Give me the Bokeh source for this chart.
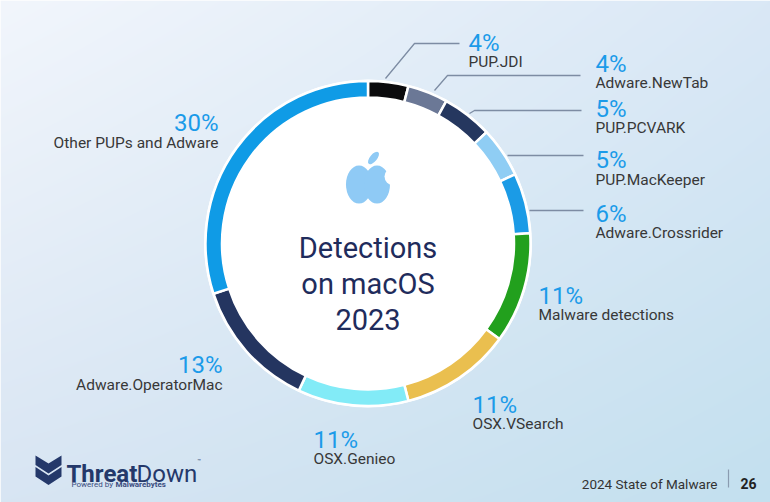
import numpy as np
from bokeh.plotting import figure
from bokeh.models import Range1d
from bokeh.embed import file_html
from bokeh.resources import INLINE
from bokeh.core.properties import value

# ---------------- data ----------------
categories = ["PUP.JDI", "Adware.NewTab", "PUP.PCVARK", "PUP.MacKeeper",
              "Adware.Crossrider", "Malware detections", "OSX.VSearch",
              "OSX.Genieo", "Adware.OperatorMac", "Other PUPs and Adware"]
shares = [4, 4, 5, 5, 6, 11, 11, 11, 13, 30]
slice_colors = ["#0b0b0d", "#6b7896", "#25375f", "#8fcdf4", "#1b9be6",
                "#22a01d", "#eabf4f", "#82ebf7", "#243560", "#0f9be6"]
pct_labels = [f"{v}%" for v in shares]

# ---------------- layout (image pixel coords) ----------------
W, H = 770, 502
OFF = 0
CX, CY = 367.5, 243.0
R_OUT, R_IN = 162.5, 146.0

def px(ix):
    return np.asarray(ix, dtype=float) - CX

def py(iy):
    return CY - np.asarray(iy, dtype=float)

label_x = [468, 595, 595, 595, 595, 538, 472, 313, 222, 218]
label_align = ["left"] * 8 + ["right", "right"]
pct_base = [42, 63, 108, 159, 213, 295, 404, 439, 364, 122]
name_base = [61, 82, 127, 179, 232, 314, 423, 458, 384, 142]
leaders = [
    [(385, 78), (414, 43), (459, 43)],
    [(434, 90), (447, 75), (580, 75)],
    [(469, 113), (474, 110), (581, 110)],
    [(507, 155), (583, 155)],
    [(529, 210), (583, 210)],
]

FONT = "Roboto"

p = figure(width=W, height=H, output_backend="svg", toolbar_location=None,
           x_range=Range1d(float(px(OFF)), float(px(OFF + W))),
           y_range=Range1d(float(py(OFF + H)), float(py(OFF))),
           min_border=0)
p.axis.visible = False
p.grid.visible = False
p.outline_line_color = None

# ---------------- background gradient ----------------
TL = np.array([242, 246, 252]); TR = np.array([218, 232, 246])
BL = np.array([216, 229, 243]); BR = np.array([195, 224, 239])
u = np.linspace(0, 1, W)[None, :, None]
v = np.linspace(0, 1, H)[:, None, None]  # 0 bottom, 1 top
top = TL * (1 - u) + TR * u
bot = BL * (1 - u) + BR * u
rgb = bot * (1 - v) + top * v
img = np.empty((H, W), dtype=np.uint32)
view = img.view(dtype=np.uint8).reshape((H, W, 4))
view[:, :, :3] = rgb.astype(np.uint8)
view[:, :, 3] = 255
p.image_rgba(image=[img], x=float(px(OFF)), y=float(py(OFF + H)), dw=W, dh=H)

# ---------------- donut ----------------
cum = np.concatenate([[0], np.cumsum(shares)]) / sum(shares)
start = np.pi / 2 - 2 * np.pi * cum[:-1]
end = np.pi / 2 - 2 * np.pi * cum[1:]
p.circle(x=0, y=0, radius=R_OUT + 1.5, fill_color="white", line_color=None)
p.annular_wedge(x=0, y=0, inner_radius=R_IN, outer_radius=R_OUT,
                start_angle=start, end_angle=end, direction="clock",
                fill_color=slice_colors, line_color="white", line_width=2.5)

# ---------------- apple logo ----------------
apple_c = "#8fcaf5"
p.ellipse(x=px([358.5, 376.5]), y=py([184, 184]), width=26, height=38,
          fill_color=apple_c, line_color=None)
p.circle(x=float(px(393)), y=float(py(176)), radius=9, fill_color="white", line_color=None)
p.ellipse(x=float(px(373)), y=float(py(157.5)), width=15, height=7, angle=np.deg2rad(50),
          fill_color=apple_c, line_color=None)

# ---------------- center title ----------------
p.text(x=[0, 0, 0], y=py([247, 283, 319]), text=["Detections", "on macOS", "2023"],
       text_align="center", text_baseline="alphabetic",
       text_font=value(FONT), text_font_size="29px", text_color="#1f2c5c")

# ---------------- leaders ----------------
for pts in leaders:
    xs = [q[0] for q in pts]; ys = [q[1] for q in pts]
    p.line(px(xs), py(ys), line_color="#7d8ca3", line_width=1.3)

# ---------------- labels ----------------
for i in range(len(categories)):
    p.text(x=[float(px(label_x[i]))], y=[float(py(pct_base[i]))], text=[pct_labels[i]],
           text_align=label_align[i], text_baseline="alphabetic",
           text_font=value(FONT), text_font_size="24px", text_color="#1b9be9")
    p.text(x=[float(px(label_x[i]))], y=[float(py(name_base[i]))], text=[categories[i]],
           text_align=label_align[i], text_baseline="alphabetic",
           text_font=value(FONT), text_font_size="15.5px", text_color="#383838")

# ---------------- footer: logo ----------------
navy = "#24386a"
chev1 = [(35, 455), (48, 463), (61, 455), (61, 464.5), (48, 473), (35, 464.5)]
chev2 = [(35, 466.5), (48, 475), (61, 466.5), (61, 476), (48, 484.5), (35, 476)]
p.patches(xs=[list(px([q[0] for q in c])) for c in (chev1, chev2)],
          ys=[list(py([q[1] for q in c])) for c in (chev1, chev2)],
          fill_color=navy, line_color=None)
p.text(x=[float(px(66))], y=[float(py(473))], text=["Threat"], text_align="left",
       text_baseline="alphabetic", text_font=value(FONT), text_font_style="bold",
       text_font_size="24px", text_color=navy)
p.text(x=[float(px(136))], y=[float(py(473))], text=["Down"], text_align="left",
       text_baseline="alphabetic", text_font=value(FONT),
       text_font_size="24px", text_color=navy)
p.text(x=[float(px(197))], y=[float(py(460))], text=["™"], text_align="left",
       text_baseline="alphabetic", text_font=value(FONT),
       text_font_size="6px", text_color=navy)
p.text(x=[float(px(71))], y=[float(py(484))], text=["Powered by"], text_align="left",
       text_baseline="alphabetic", text_font=value(FONT),
       text_font_size="8px", text_color="#3b4d80")
p.text(x=[float(px(115))], y=[float(py(484))], text=["Malwarebytes"], text_align="left",
       text_baseline="alphabetic", text_font=value(FONT), text_font_style="bold",
       text_font_size="8px", text_color="#3b4d80")

# ---------------- footer: right ----------------
p.text(x=[float(px(717))], y=[float(py(483))], text=["2024 State of Malware"],
       text_align="right", text_baseline="alphabetic", text_font=value(FONT),
       text_font_size="13.5px", text_color="#333333")
p.line(px([728, 728]), py([469, 487]), line_color="#8a9bb0", line_width=1.2)
p.text(x=[float(px(740))], y=[float(py(483))], text=["26"], text_align="left",
       text_baseline="alphabetic", text_font=value(FONT), text_font_style="bold",
       text_font_size="14px", text_color="#222222")

open("out.html", "w").write(file_html(p, INLINE))
